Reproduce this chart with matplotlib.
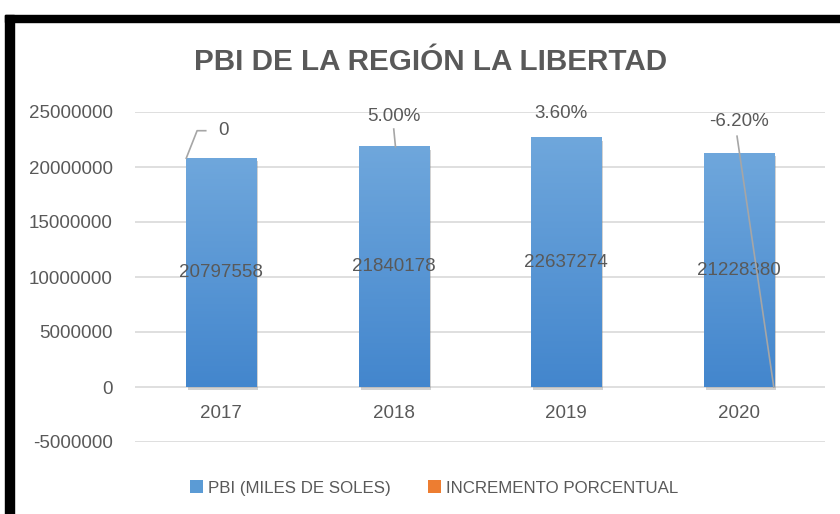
import matplotlib
matplotlib.use("Agg")
import matplotlib.pyplot as plt
import numpy as np
from matplotlib.colors import LinearSegmentedColormap
from matplotlib.patches import Rectangle, Patch

# data
years = ["2017", "2018", "2019", "2020"]
pbi = [20797558, 21840178, 22637274, 21228380]
incremento = [0.0, 0.05, 0.036, -0.062]
y_ticks = [-5000000, 0, 5000000, 10000000, 15000000, 20000000, 25000000]

TXT = "#595959"
GRID = "#D9D9D9"
LEAD = "#A6A6A6"
FONT = ["Liberation Sans", "DejaVu Sans"]
plt.rcParams["font.family"] = FONT

fig = plt.figure(figsize=(8.4, 5.14), dpi=100)
ax = fig.add_axes([135 / 840, 1 - 442 / 514, 690 / 840, 330 / 514])

x = np.arange(len(years))
w = 0.406
blues = LinearSegmentedColormap.from_list("bl", ["#4386CD", "#6FA7DC"])
grad = np.linspace(0, 1, 256).reshape(-1, 1)
for xi, v in zip(x, pbi):
    # soft shadow then gradient fill
    ax.add_patch(Rectangle((xi - w / 2 + 0.012, -250000), w, v, color="#7f7f7f",
                           alpha=0.35, lw=0, zorder=1.5))
    ax.imshow(grad, extent=[xi - w / 2, xi + w / 2, 0, v], origin="lower",
              aspect="auto", cmap=blues, zorder=2)
    ax.text(xi, v / 2, f"{v}", ha="center", va="center", fontsize=13.5,
            color=TXT, zorder=5)

# percentage series on the same scale (practically zero height)
ax.bar(x + w / 2, incremento, width=0.01, color="#ED7D31", zorder=2)

# percentage labels: (x offset, label y) and leader style
lab_pos = [(-0.015, 23.3e6), (0.0, 24.55e6), (-0.03, 24.9e6), (0.0, 24.1e6)]
for i, (xi, p) in enumerate(zip(x, incremento)):
    s = "0" if p == 0 else f"{p * 100:.2f}%"
    dx, ly = lab_pos[i]
    ax.text(xi + dx, ly, s, ha="left" if i == 0 else "center", va="center",
            fontsize=13.5, color=TXT, zorder=6)
    if i == 0:
        ax.plot([xi - w / 2, xi - 0.14, xi - 0.09], [pbi[i], ly, ly],
                color=LEAD, lw=1.2, zorder=6)
    elif i == 1:
        ax.plot([xi + 0.01, xi], [pbi[i], ly - 1.1e6], color=LEAD, lw=1.2, zorder=6)
    elif i == 3:
        ax.plot([xi - 0.01, xi + w / 2], [ly - 1.3e6, 0], color=LEAD, lw=1.2, zorder=6)

ax.set_xlim(-0.5, len(years) - 0.5)
ax.set_ylim(y_ticks[0], y_ticks[-1])
ax.set_yticks(y_ticks)
ax.set_yticklabels([str(t) for t in y_ticks])
ax.yaxis.grid(True, color=GRID, lw=1.2, zorder=0)
ax.set_axisbelow(True)
ax.set_xticks(x)
ax.set_xticklabels(years)
ax.spines["bottom"].set_position(("data", 0))
for sp in ax.spines.values():
    sp.set_visible(False)
ax.tick_params(axis="y", length=0, pad=16, labelsize=13.5, labelcolor=TXT)
ax.tick_params(axis="x", length=0, pad=13, labelsize=13.5, labelcolor=TXT)

fig.text(0.513, 1 - 62 / 514, "PBI DE LA REGIÓN LA LIBERTAD", ha="center", va="center",
         fontsize=21.3, fontweight="bold", color=TXT)

handles = [Patch(facecolor="#5B9BD5", label="PBI (MILES DE SOLES)"),
           Patch(facecolor="#ED7D31", label="INCREMENTO PORCENTUAL")]
fig.legend(handles=handles, loc="center", bbox_to_anchor=(0.517, 1 - 488 / 514), ncol=2,
           frameon=False, fontsize=12.2, labelcolor=TXT, handlelength=0.75,
           handleheight=0.75, handletextpad=0.3, columnspacing=2.2)

# thick black frame on top and left
fig.patches.append(Rectangle((5 / 840, 1 - 22 / 514), 1, 7 / 514, transform=fig.transFigure,
                             color="black", zorder=10))
fig.patches.append(Rectangle((5 / 840, 0), 9 / 840, 1 - 15 / 514, transform=fig.transFigure,
                             color="black", zorder=10))

fig.savefig("out.png", dpi=100)
